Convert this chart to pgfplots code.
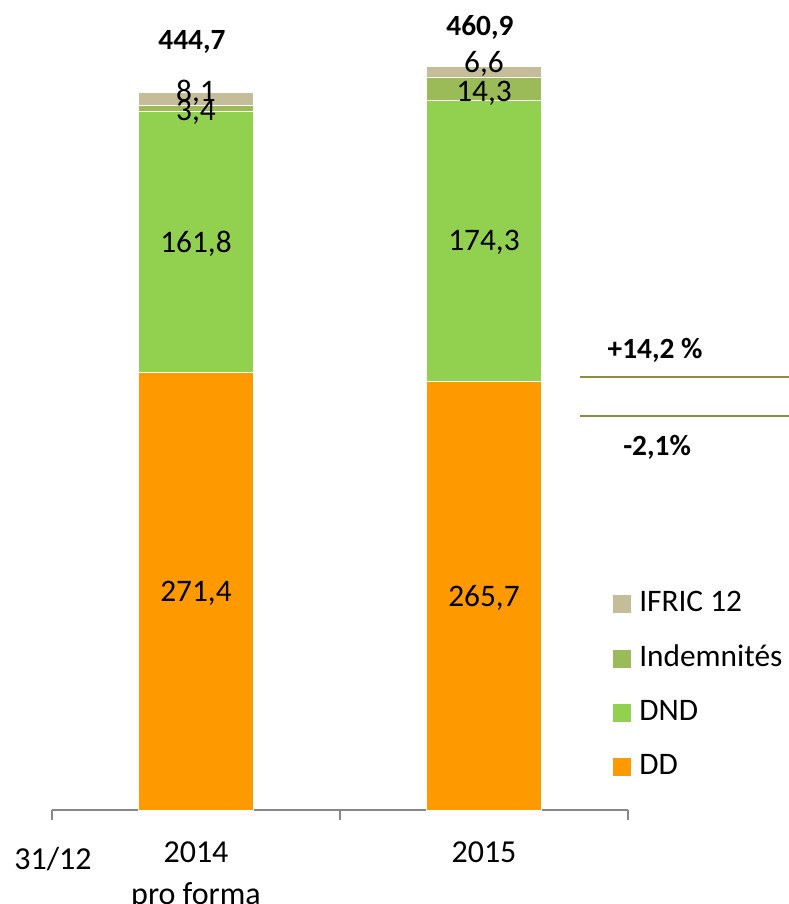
\documentclass[border=0pt]{standalone}
\usepackage{fontspec}
\setmainfont{Carlito}
\usepackage{pgfplots}
\pgfplotsset{compat=1.18}
\definecolor{ifric}{HTML}{C4BD97}
\definecolor{indem}{HTML}{9BBB59}
\definecolor{dnd}{HTML}{92D050}
\definecolor{dd}{HTML}{FF9900}
\definecolor{axisgray}{HTML}{878787}
\definecolor{varline}{RGB}{143,138,72}
\tikzset{
  seglab/.style={font=\fontsize{23.5}{28}\selectfont, anchor=center, yshift=-1.5pt},
  totlab/.style={font=\fontsize{22}{26}\selectfont\bfseries, anchor=center, yshift=-1.5pt, xshift=-3pt},
}
\begin{document}
\begin{tikzpicture}
\useasboundingbox (-39pt,-70.5pt) rectangle (552.75pt,607.5pt);
\begin{axis}[
  at={(0,0)}, anchor=south west,
  scale only axis, width=432pt, height=607.5pt,
  ybar stacked, bar width=86.25pt,
  xmin=-0.5, xmax=1.5, ymin=0, ymax=502,
  axis y line=none, axis x line*=bottom,
  x axis line style={draw=axisgray, line width=1.1pt},
  xtick={0,1}, xticklabels={{2014\\pro forma},2015},
  xticklabel style={align=center, font=\fontsize{24}{32}\selectfont, anchor=north, yshift=-20pt},
  xtick style={draw=none},
  extra x ticks={-0.5,0.5,1.5}, extra x tick labels={},
  extra x tick style={xtick style={draw=axisgray, line width=1.1pt}, major tick length=7.5pt, tick align=outside},
  clip=false,
  reverse legend,
  legend style={at={(rel axis cs:0.974,0.2716)}, anchor=north west, draw=none, fill=none,
    font=\fontsize{23.5}{28}\selectfont, row sep=19.8pt, inner sep=0pt,
    nodes={inner ysep=0pt, inner xsep=3pt, text height=16pt, text depth=5pt},
    /tikz/every odd column/.style={column sep=3pt},
    cells={anchor=west}},
  legend image code/.code={\fill[#1,draw=none] (0pt,-6.75pt) rectangle (13.5pt,6.75pt);},
]
\addplot[fill=dd, draw=white, line width=0.6pt] coordinates {(0,271.4) (1,265.7)};
\addlegendentry{DD}
\addplot[fill=dnd, draw=white, line width=0.6pt] coordinates {(0,161.8) (1,174.3)};
\addlegendentry{DND}
\addplot[fill=indem, draw=white, line width=0.6pt] coordinates {(0,3.4) (1,14.3)};
\addlegendentry{Indemnités}
\addplot[fill=ifric, draw=white, line width=0.6pt] coordinates {(0,8.1) (1,6.6)};
\addlegendentry{IFRIC 12}

% anchor points for the labels, drawn after the axis so they sit above the bars
\coordinate (a1) at (axis cs:0,135.7);
\coordinate (a2) at (axis cs:0,352.3);
\coordinate (a3) at (axis cs:0,433.8);
\coordinate (a4) at (axis cs:0,445.6);
\coordinate (b1) at (axis cs:1,132.9);
\coordinate (b2) at (axis cs:1,352.8);
\coordinate (b3) at (axis cs:1,445.6);
\coordinate (b4) at (axis cs:1,463.6);
\coordinate (ta) at (axis cs:0,477.2);
\coordinate (tb) at (axis cs:1,486.5);
\coordinate (l1s) at (axis cs:1.333,268.4);
\coordinate (l1e) at (axis cs:2.059,268.4);
\coordinate (l2s) at (axis cs:1.333,244.2);
\coordinate (l2e) at (axis cs:2.059,244.2);
\coordinate (v1) at (axis cs:1.594,285.1);
\coordinate (v2) at (axis cs:1.601,225.0);
\coordinate (dt) at (axis cs:-0.4965,-30.4);
\end{axis}
\node[seglab] at (a1) {271,4};
\node[seglab] at (a2) {161,8};
\node[seglab] at (a3) {3,4};
\node[seglab] at (a4) {8,1};
\node[seglab] at (b1) {265,7};
\node[seglab] at (b2) {174,3};
\node[seglab] at (b3) {14,3};
\node[seglab] at (b4) {6,6};
\node[totlab] at (ta) {444,7};
\node[totlab] at (tb) {460,9};
\draw[varline, line width=1.3pt] (l1s) -- (l1e);
\draw[varline, line width=1.3pt] (l2s) -- (l2e);
\node[font=\fontsize{22}{26}\selectfont\bfseries] at (v1) {+14,2 \%};
\node[font=\fontsize{22}{26}\selectfont\bfseries] at (v2) {-2,1\%};
\node[font=\fontsize{24}{32}\selectfont] at (dt) {31/12};
\end{tikzpicture}
\end{document}
